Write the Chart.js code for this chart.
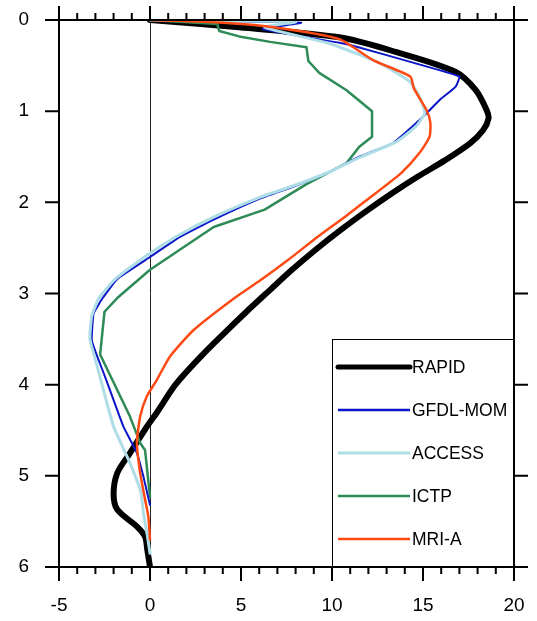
<!DOCTYPE html>
<html>
<head>
<meta charset="utf-8">
<script src="https://cdn.jsdelivr.net/npm/chart.js@4.4.1/dist/chart.umd.min.js"></script>
<style>
  html, body { margin: 0; padding: 0; background: #fff; }
</style>
</head>
<body>
<canvas id="c" width="537" height="621"></canvas>
<script>
// Series names
const seriesNames = ['RAPID', 'GFDL-MOM', 'ACCESS', 'ICTP', 'MRI-A'];

// Profiles: transport value (x) against depth (y)
const rapidVal   = [0, 4.9, 10.4, 13.5, 16.8, 17.9, 18.5, 18.6, 18.3, 17.6, 16.2, 14.7, 13.3, 12.0, 10.5, 9.1, 7.8, 6.6, 5.3, 4.0, 2.8, 1.4, 0.4, -0.2, -1.1, -1.8, -2.0, -1.8, -0.7, -0.27, -0.15, 0];
const rapidDepth = [0, 0.08, 0.19, 0.35, 0.57, 0.77, 0.99, 1.08, 1.21, 1.35, 1.54, 1.72, 1.9, 2.08, 2.3, 2.52, 2.74, 2.96, 3.2, 3.45, 3.69, 4.0, 4.3, 4.47, 4.75, 4.97, 5.2, 5.37, 5.56, 5.67, 5.81, 6.0];

const gfdlVal    = [0, 8.3, 6.2, 10.4, 11.3, 14.5, 17.0, 16.8, 15.9, 15.36, 14.63, 13.35, 11.5, 9.7, 7.86, 6.04, 3.5, 1.65, 0, -1.8, -2.6, -3.1, -3.2, -2.9, -2.4, -1.8, -1.46, -0.72, -0.36, 0];
const gfdlDepth  = [0, 0.03, 0.1, 0.25, 0.29, 0.47, 0.62, 0.73, 0.88, 0.99, 1.13, 1.35, 1.5, 1.68, 1.83, 1.96, 2.19, 2.38, 2.6, 2.84, 3.05, 3.22, 3.51, 3.69, 3.95, 4.28, 4.46, 4.75, 5.01, 5.32];

const accessVal   = [0, 8.0, 6.3, 9.9, 12.6, 14.3, 14.8, 15.1, 14.6, 13.5, 11.6, 9.8, 8.0, 6.1, 3.4, 1.5, -0.3, -1.9, -2.8, -3.2, -3.3, -2.9, -2.0, -1.1, -0.5, -0.36, -0.15, 0];
const accessDepth = [0, 0.02, 0.08, 0.26, 0.47, 0.68, 0.84, 1.02, 1.17, 1.34, 1.5, 1.67, 1.81, 1.94, 2.17, 2.37, 2.6, 2.84, 3.05, 3.25, 3.5, 3.8, 4.46, 4.86, 5.18, 5.41, 5.65, 5.85];

const ictpVal    = [0, 3.7, 3.8, 4.9, 6.6, 8.6, 8.7, 9.3, 10.8, 12.2, 12.2, 11.5, 10.8, 8.6, 6.3, 3.5, 0, -1.8, -2.5, -2.74, -1.1, -0.54, -0.27, 0];
const ictpDepth  = [0, 0.045, 0.12, 0.18, 0.24, 0.3, 0.45, 0.58, 0.77, 1.0, 1.28, 1.39, 1.57, 1.8, 2.08, 2.27, 2.74, 3.05, 3.2, 3.67, 4.35, 4.64, 4.72, 5.23];

const mriVal     = [0, 4.0, 6.8, 10.4, 12.25, 14.3, 14.5, 15.2, 15.4, 15.36, 14.8, 13.8, 12.4, 10.7, 9.2, 7.6, 6.1, 4.5, 2.4, 1.1, 0.37, -0.18, -0.54, -0.72, -0.54, -0.27, -0.09, 0];
const mriDepth   = [0, 0.03, 0.08, 0.21, 0.44, 0.62, 0.75, 0.99, 1.12, 1.28, 1.46, 1.68, 1.9, 2.16, 2.38, 2.63, 2.85, 3.07, 3.4, 3.69, 3.95, 4.13, 4.35, 4.64, 4.97, 5.26, 5.45, 5.7];

// Axis ticks
const xMajorTicks = [-5, 0, 5, 10, 15, 20];
const yMajorTicks = [0, 1, 2, 3, 4, 5, 6];

const pts = (xs, ys) => xs.map((v, i) => ({ x: v, y: ys[i] }));

const FONT = '"Liberation Sans", Arial, Helvetica, sans-serif';

const datasets = [
  { label: seriesNames[0], data: pts(rapidVal, rapidDepth),   borderColor: '#000000', borderWidth: 6,   tension: 0.3 },
  { label: seriesNames[1], data: pts(gfdlVal, gfdlDepth),     borderColor: '#0a14c8', borderWidth: 2,   tension: 0.1 },
  { label: seriesNames[2], data: pts(accessVal, accessDepth), borderColor: '#aedde6', borderWidth: 3,   tension: 0.15 },
  { label: seriesNames[3], data: pts(ictpVal, ictpDepth),     borderColor: '#2e8b57', borderWidth: 2.5, tension: 0 },
  { label: seriesNames[4], data: pts(mriVal, mriDepth),       borderColor: '#ff4a14', borderWidth: 2.5, tension: 0.2 }
].map(d => Object.assign(d, {
  showLine: true, pointRadius: 0, fill: false,
  borderCapStyle: 'round', borderJoinStyle: 'round'
}));

// Draw order: thin models under, RAPID on top
const order = [4, 2, 1, 3, 0];
datasets.forEach((d, i) => { d.order = order[i]; });

// Zero reference line
const zeroLine = {
  id: 'zeroLine',
  beforeDatasetsDraw(chart) {
    const { ctx, chartArea: a, scales: { x } } = chart;
    const px = Math.round(x.getPixelForValue(0)) + 0.5;
    ctx.save();
    ctx.strokeStyle = '#222';
    ctx.lineWidth = 1;
    ctx.beginPath();
    ctx.moveTo(px, a.top);
    ctx.lineTo(px, a.bottom);
    ctx.stroke();
    ctx.restore();
  }
};

// Frame with outward major/minor tick marks
const frameTicks = {
  id: 'frameTicks',
  afterDatasetsDraw(chart) {
    const { ctx, chartArea: a, scales: { x, y } } = chart;
    ctx.save();
    ctx.strokeStyle = '#000';
    ctx.lineWidth = 2;
    ctx.lineCap = 'butt';
    ctx.strokeRect(a.left, a.top, a.right - a.left, a.bottom - a.top);
    ctx.beginPath();
    for (let v = x.min; v <= x.max; v += 1) {
      const px = x.getPixelForValue(v);
      const len = xMajorTicks.includes(v) ? 14 : 7;
      ctx.moveTo(px, a.top); ctx.lineTo(px, a.top - len);
      ctx.moveTo(px, a.bottom); ctx.lineTo(px, a.bottom + len);
    }
    yMajorTicks.forEach(v => {
      const py = y.getPixelForValue(v);
      ctx.moveTo(a.left, py); ctx.lineTo(a.left - 14, py);
      ctx.moveTo(a.right, py); ctx.lineTo(a.right + 14, py);
    });
    ctx.stroke();
    ctx.restore();
  }
};

// Boxed legend in the lower right corner of the plot
const boxLegend = {
  id: 'boxLegend',
  afterDraw(chart) {
    const { ctx, chartArea: a, scales: { x, y } } = chart;
    const left = x.getPixelForValue(10);
    const top = y.getPixelForValue(3.5);
    ctx.save();
    ctx.fillStyle = '#fff';
    ctx.fillRect(left, top, a.right - left, a.bottom - top);
    ctx.strokeStyle = '#000';
    ctx.lineWidth = 1;
    ctx.strokeRect(Math.round(left) + 0.5, Math.round(top) + 0.5, a.right - Math.round(left) - 0.5, a.bottom - Math.round(top) - 0.5);
    // redraw the thick frame edges over the box
    ctx.lineWidth = 2;
    ctx.beginPath();
    ctx.moveTo(a.right, top); ctx.lineTo(a.right, a.bottom);
    ctx.moveTo(left, a.bottom); ctx.lineTo(a.right, a.bottom);
    ctx.stroke();

    const rowGap = 43;
    const firstRow = top + 28;
    ctx.font = '17.5px ' + FONT;
    ctx.textBaseline = 'middle';
    ctx.fillStyle = '#000';
    chart.data.datasets.forEach((d, i) => {
      const ry = firstRow + i * rowGap;
      ctx.strokeStyle = d.borderColor;
      ctx.lineWidth = i === 0 ? 5 : (d.borderWidth > 2.5 ? 3 : 2.5);
      ctx.lineCap = i === 0 ? 'round' : 'butt';
      ctx.beginPath();
      ctx.moveTo(left + 6, ry);
      ctx.lineTo(left + 78, ry);
      ctx.stroke();
      ctx.fillText(d.label, left + 80, ry + 1);
    });
    ctx.restore();
  }
};

// keep the plot area fixed: no extra room reserved for overhanging labels
function noOverhang(s) {
  s.paddingTop = 0; s.paddingBottom = 0; s.paddingLeft = 0; s.paddingRight = 0;
}

new Chart(document.getElementById('c'), {
  type: 'scatter',
  data: { datasets },
  options: {
    responsive: false,
    animation: false,
    events: [],
    layout: { padding: { top: 20, right: 23, left: 0, bottom: 0 } },
    plugins: { legend: { display: false }, tooltip: { enabled: false } },
    scales: {
      x: {
        type: 'linear', min: -5, max: 20,
        grid: { display: false, drawTicks: false },
        border: { display: false },
        ticks: { stepSize: 5, padding: 27, color: '#000', font: { family: FONT, size: 19 } },
        afterFit(s) { s.height = 54; noOverhang(s); }
      },
      y: {
        type: 'linear', min: 0, max: 6, reverse: true,
        grid: { display: false, drawTicks: false },
        border: { display: false },
        ticks: { stepSize: 1, padding: 30, color: '#000', font: { family: FONT, size: 19 } },
        afterFit(s) { s.width = 59; noOverhang(s); }
      }
    }
  },
  plugins: [zeroLine, frameTicks, boxLegend]
});
</script>
</body>
</html>
